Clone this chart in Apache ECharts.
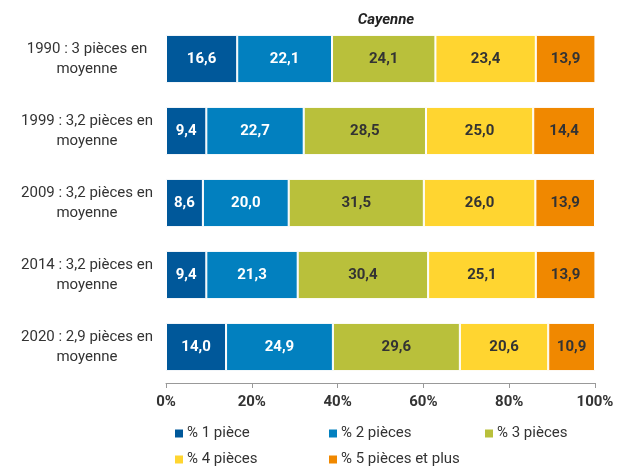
<!DOCTYPE html>
<html><head><meta charset="utf-8">
<script src="https://cdn.jsdelivr.net/npm/echarts@6/dist/echarts.min.js"></script>
<style>html,body{margin:0;padding:0;background:#fff}#c{width:617px;height:468px}</style>
</head><body><div id="c"></div>
<script>
const categories = ["1990 : 3 pièces en\nmoyenne","1999 : 3,2 pièces en\nmoyenne","2009 : 3,2 pièces en\nmoyenne","2014 : 3,2 pièces en\nmoyenne","2020 : 2,9 pièces en\nmoyenne"];
const seriesNames = ["% 1 pièce","% 2 pièces","% 3 pièces","% 4 pièces","% 5 pièces et plus"];
const p1 = [16.6, 9.4, 8.6, 9.4, 14.0];
const p2 = [22.1, 22.7, 20.0, 21.3, 24.9];
const p3 = [24.1, 28.5, 31.5, 30.4, 29.6];
const p4 = [23.4, 25.0, 26.0, 25.1, 20.6];
const p5 = [13.9, 14.4, 13.9, 13.9, 10.9];
const xTicks = ["0%","20%","40%","60%","80%","100%"];
const values = [p1,p2,p3,p4,p5];
const colors = ["#00589a","#0280bf","#b9c03b","#ffd530","#f08800"];
const labelColors = ["#fff","#fff","#333","#333","#333"];
const FONT = "Roboto";
const chart = echarts.init(document.getElementById('c'));
const series = values.map((v,i)=>({
  name: seriesNames[i], type:'bar', stack:'total', barCategoryGap:'33%',
  data: v, itemStyle:{color:colors[i], borderColor:'#fff', borderWidth:1},
  label:{show:true, position:'inside', color:labelColors[i], fontFamily:FONT, fontWeight:'bold', fontSize:15,
    formatter:p=>p.value.toFixed(1).replace('.',',')}
}));
const legPos = [[173,426],[327,426],[483,426],[173,452],[327,452]];
const legends = seriesNames.map((n,i)=>({
  data:[n], left:legPos[i][0], top:legPos[i][1], itemWidth:10, itemHeight:10, itemGap:5,
  icon:'rect', textStyle:{fontFamily:FONT, fontSize:15, color:'#333', padding:[0,0,0,-2]}, padding:0, selectedMode:false
}));
chart.setOption({
  animation:false,
  title:{text:'Cayenne', left:381, top:8, textAlign:'center', textStyle:{fontFamily:FONT, fontSize:15, fontWeight:'bold', fontStyle:'italic', color:'#222'}},
  legend: legends,
  grid:{left:166, right:22, top:23, bottom:85, containLabel:false},
  xAxis:{type:'value', min:0, max:100, interval:20,
    axisLine:{show:true, lineStyle:{color:'#999'}}, axisTick:{show:true, length:5, lineStyle:{color:'#999'}},
    splitLine:{show:false},
    axisLabel:{margin:12, fontFamily:FONT, fontSize:15, fontWeight:'bold', color:'#333', formatter:v=>xTicks[v/20]}},
  yAxis:{type:'category', inverse:true, data:categories,
    axisLine:{show:false}, axisTick:{show:false},
    axisLabel:{margin:79, align:'center', fontFamily:FONT, fontSize:15, color:'#333', lineHeight:20}},
  series: series
});
</script></body></html>
